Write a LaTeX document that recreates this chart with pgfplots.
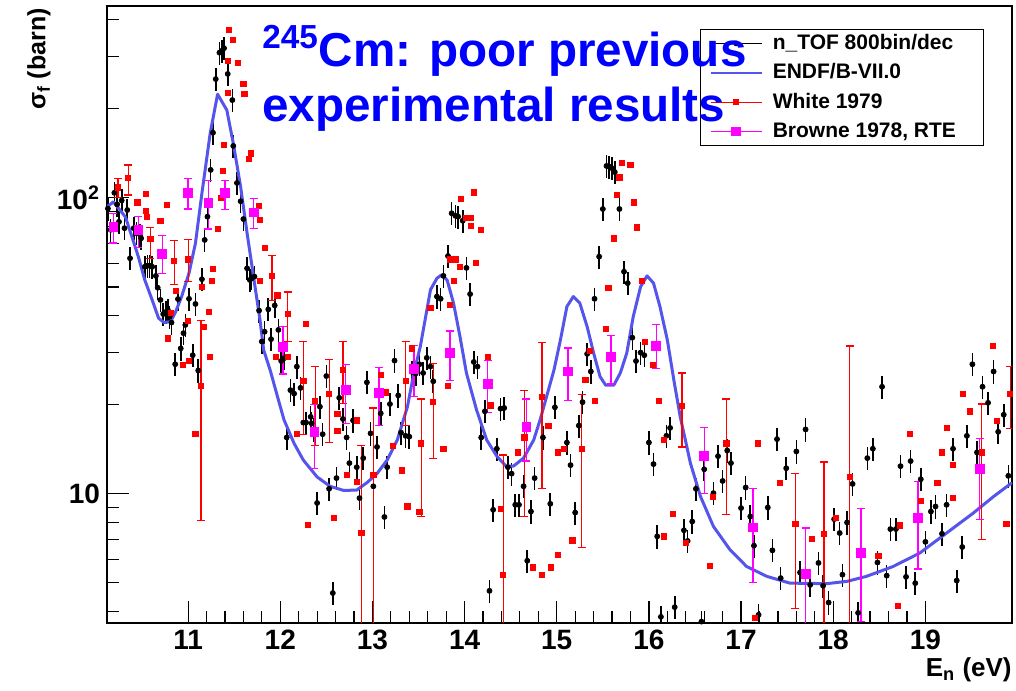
\documentclass[border=0pt]{standalone}
\usepackage{pgfplots}
\pgfplotsset{compat=1.18}
\usepackage{pgfplotstable}
\usepackage{fontspec}
\setmainfont{Liberation Sans}

\definecolor{endfblue}{RGB}{85,85,235}
\definecolor{titleblue}{RGB}{0,0,255}
\definecolor{brownemag}{RGB}{255,0,255}
\definecolor{whitered}{RGB}{255,0,0}

% n_TOF 800bin/dec
\pgfplotstableread{
x y
10.13 92
10.16 78
10.20 104
10.23 95
10.25 83
10.28 98
10.31 79
10.34 91
10.37 62.5
10.41 79
10.44 76
10.46 79
10.48 75
10.49 73
10.53 58.5
10.56 59
10.58 59
10.61 58.5
10.65 54.5
10.67 49.7
10.70 45.2
10.73 40.5
10.76 41.2
10.78 41.8
10.80 39.7
10.82 37.9
10.86 27.4
10.89 45.5
10.92 31.0
10.95 34.9
10.97 37.2
11.01 45.6
11.05 29.4
11.08 43.8
11.11 26.1
11.15 53.1
11.18 72.1
11.21 86.4
11.245 124.3
11.27 166
11.30 252
11.34 309.6
11.37 314.5
11.39 320.4
11.43 262.3
11.48 214
11.49 149.8
11.53 112.3
11.57 97.4
11.60 84.8
11.64 57.8
11.67 52.8
11.69 53.5
11.72 54.2
11.77 41.6
11.80 32.7
11.83 35.3
11.87 42.0
11.90 33.3
11.94 43.3
11.98 35.8
12.01 28.1
12.04 28.7
12.07 15.5
12.11 22.4
12.15 21.8
12.18 26.9
12.22 22.8
12.25 17.4
12.28 17.4
12.33 18.2
12.34 17.3
12.36 16.5
12.40 9.31
12.43 19.7
12.46 15.9
12.50 25.0
12.53 10.4
12.57 4.62
12.61 11.3
12.64 21.1
12.68 17.9
12.72 15.5
12.75 12.7
12.79 17.7
12.83 12.3
12.86 9.67
12.90 13.2
12.94 23.8
12.98 16.0
13.01 10.6
13.05 14.4
13.09 18.7
13.13 8.35
13.16 12.3
13.19 20.1
13.24 28.2
13.28 21.5
13.31 16.1
13.36 15.7
13.40 15.6
13.43 25.8
13.47 25.5
13.51 27.4
13.55 25.6
13.59 28.8
13.63 26.9
13.66 24.0
13.70 46.4
13.74 45.6
13.77 54.5
13.82 63.6
13.86 88.7
13.90 87.0
13.93 86.4
13.98 83.7
14.02 58.0
14.06 47.3
14.10 27.9
14.14 26.9
14.18 15.5
14.22 19.0
14.27 4.70
14.31 8.83
14.35 14.2
14.39 19.4
14.43 19.5
14.47 12.3
14.51 11.7
14.55 9.18
14.59 9.18
14.64 10.6
14.68 5.94
14.72 8.71
14.76 11.3
14.85 15.5
14.93 9.25
14.98 19.6
15.11 14.9
15.15 12.5
15.20 8.64
15.24 17.0
15.28 20.4
15.33 29.7
15.37 25.9
15.41 45.6
15.46 63.3
15.50 91.7
15.54 128.2
15.57 127.5
15.60 125.9
15.63 122.2
15.68 91.7
15.73 56.3
15.77 51.5
15.82 33.7
15.86 28.1
15.91 30.0
15.95 29.4
16.00 14.9
16.05 12.6
16.09 7.18
16.13 3.84
16.19 15.7
16.23 16.7
16.28 4.14
16.38 7.53
16.42 6.93
16.47 8.06
16.51 10.4
16.57 3.70
16.60 12.1
16.70 10.05
16.75 13.4
16.80 11.05
16.85 14.0
16.89 12.7
17.00 8.95
17.05 10.5
17.10 8.38
17.14 6.68
17.19 3.90
17.29 8.99
17.34 6.44
17.39 15.3
17.43 5.19
17.49 12.2
17.60 13.9
17.64 5.42
17.70 16.5
17.75 4.92
17.84 5.84
17.89 4.89
17.95 4.29
18.01 8.21
18.07 7.37
18.10 5.33
18.15 8.00
18.21 10.8
18.27 3.96
18.37 13.2
18.43 14.2
18.48 5.86
18.53 23.0
18.58 5.29
18.62 7.60
18.68 7.60
18.73 12.4
18.79 5.24
18.84 12.9
18.89 4.99
18.95 11.2
19.00 6.88
19.06 8.71
19.11 9.06
19.18 7.33
19.23 9.18
19.30 14.2
19.34 5.09
19.40 6.61
19.45 15.7
19.51 27.4
19.56 13.8
19.62 23.0
19.68 20.3
19.74 25.9
19.79 16.2
19.85 18.5
19.90 11.5
}\ntof

% ENDF/B-VII.0
\pgfplotstableread{
x y
10.12 93.3
10.19 96.9
10.32 86.2
10.39 74.0
10.46 63.3
10.53 52.8
10.61 45.2
10.68 39.2
10.74 37.9
10.81 38.2
10.86 40.9
10.93 46.4
11.01 55.7
11.08 70.3
11.15 103.7
11.24 165.5
11.32 224
11.42 198
11.49 153
11.57 109
11.64 76
11.71 54.2
11.78 38.7
11.82 30.6
11.89 26.2
11.97 21.3
12.04 17.8
12.15 14.8
12.25 13.0
12.40 11.4
12.54 10.6
12.69 10.26
12.83 10.3
12.94 10.9
13.05 11.7
13.16 13.0
13.27 15.2
13.38 19.7
13.45 25.6
13.52 31.5
13.63 48.9
13.70 53.5
13.75 54.9
13.81 52.8
13.88 44.1
13.95 34.0
14.02 25.6
14.13 19.2
14.24 15.2
14.35 13.4
14.45 12.4
14.53 12.4
14.64 13.2
14.75 15.2
14.82 17.8
14.97 26.2
15.04 33.1
15.11 42.9
15.18 46.4
15.25 44.1
15.33 36.7
15.40 29.9
15.47 24.9
15.53 23.3
15.62 23.3
15.69 25.6
15.76 29.9
15.83 39.7
15.91 50.1
15.98 54.5
16.05 51.5
16.12 42.9
16.20 33.1
16.27 24.3
16.34 18.2
16.41 14.5
16.45 12.7
16.56 9.79
16.70 7.76
16.88 6.47
17.06 5.68
17.28 5.26
17.53 4.99
17.93 4.97
18.15 5.06
18.36 5.26
18.65 5.68
18.94 6.31
19.23 7.37
19.52 8.61
19.74 9.79
19.94 10.9
}\endf

% White 1979, points with error bars
\pgfplotstableread{
x y ep em
10.24 108.5 8.1 8.5
10.35 116.6 12.6 14.3
10.59 72.5 6.8 10.0
10.85 61.4 10.3 10.5
11.00 62.0 10.5 9.7
11.14 23.1 15.4 15.0
11.91 54.6 9.1 9.7
12.08 40.5 7.6 7.7
12.25 24.1 8.6 8.2
12.38 20.6 6.3 6.0
12.53 21.7 6.7 6.75
12.68 26.3 6.4 6.1
12.88 7.4 7.2 4.4
13.01 11.6 7.9 8.5
13.36 24.1 8.6 7.1
13.53 14.8 6.1 6.4
13.66 20.4 7.2 7.2
14.42 5.33 8.2 2.5
14.65 15.5 6.8 7.1
14.84 21.3 11.2 10.9
15.27 14.2 7.4 7.6
16.36 19.8 5.8 5.4
16.84 14.8 6.1 6.3
17.59 7.9 3.8 3.8
17.90 7.30 5.5 4.3
18.18 11.4 20.2 8.4
19.61 13.8 6.3 6.8
19.92 21.7 5.2 5.1
}\whiteerr

% White 1979, other points
\pgfplotstableread{
x y
10.45 96.5
10.54 103.4
10.54 90.3
10.55 86.2
10.70 83.5
10.77 94.6
10.78 33.5
10.81 40.9
10.87 48.6
10.94 27.2
11.00 38.5
11.01 28.2
11.08 15.9
11.15 50.1
11.17 36.7
11.23 41.2
11.24 29.0
11.26 52.5
11.27 57.4
11.32 78.7
11.36 99.8
11.38 123.5
11.39 151
11.43 226.7
11.43 291
11.44 369.6
11.49 341.8
11.54 286.4
11.60 242.6
11.61 224.5
11.66 135
11.68 141.3
11.77 93.9
11.78 84.2
11.83 67.6
11.78 52.5
11.97 46.8
11.95 29.0
12.08 29.0
12.18 15.9
12.28 37.5
12.30 7.83
12.58 8.27
12.62 18.6
12.62 16.3
12.72 11.6
12.83 11.0
12.83 17.7
13.09 25.2
13.14 22.0
13.22 14.5
13.32 12.0
13.38 9.07
13.43 31.0
13.51 8.71
13.63 42.4
13.77 14.2
13.82 23.1
13.84 43.4
13.84 62.0
13.88 52.5
13.91 62.0
13.95 58.5
13.96 99.1
14.01 85.6
14.07 85.6
14.07 80.4
14.10 104.4
14.12 60.1
14.18 77.9
14.25 29.0
14.28 19.9
14.39 8.88
14.58 13.8
14.74 5.64
14.84 5.33
14.91 17.0
14.94 5.64
15.01 6.21
15.01 13.8
15.08 14.2
15.17 6.96
15.31 24.2
15.36 30.4
15.41 20.6
15.53 36.0
15.56 49.5
15.62 73.0
15.65 102.4
15.68 117.3
15.71 131.6
15.80 129.2
15.84 96.6
15.87 79.5
15.92 52.4
15.96 32.7
16.04 27.2
16.11 20.6
16.16 15.2
16.16 7.18
16.26 8.56
16.40 6.82
16.66 5.69
16.69 9.76
17.15 3.80
17.18 14.8
17.42 10.9
17.77 7.04
18.03 8.29
18.49 6.18
18.70 4.19
18.72 7.82
18.83 15.9
18.95 9.48
19.13 10.9
19.18 13.8
19.23 16.7
19.30 12.5
19.30 9.67
19.41 21.7
19.48 19.0
19.73 31.7
19.78 17.6
19.88 7.9
}\whitepts

% Browne 1978, RTE
\pgfplotstableread{
x y ep em
10.19 79.9 8.9 9.5
10.46 77.9 8.5 10.1
10.72 64.8 9.7 9.4
11.00 104.2 11.8 12.5
11.22 95.9 18.5 17.4
11.40 103.7 10.7 12.1
11.71 89.3 9.9 10.3
12.03 31.3 5.5 5.9
12.37 16.2 3.8 4.0
12.71 22.4 4.9 5.1
13.07 21.9 4.8 4.9
13.45 26.5 5.3 5.2
13.84 30.0 5.5 5.8
14.25 23.5 4.7 4.7
14.67 16.8 4.1 3.9
15.12 25.9 5.2 5.2
15.59 29.1 5.1 5.6
16.08 31.7 5.6 5.2
16.60 13.4 3.4 3.35
17.13 7.7 2.7 2.7
17.70 5.37 2.3 2.4
18.30 6.3 2.6 2.6
18.92 8.27 2.7 2.7
19.59 12.1 3.3 3.9
}\browne

\begin{document}
\begin{tikzpicture}
\begin{axis}[
    name=ax,
    scale only axis,
    width=452.5pt, height=308.5pt,
    ymode=log,
    xmin=10.12, xmax=19.94,
    ymin=3.66, ymax=445,
    xtick={11,...,19},
    minor x tick num=4,
    ytick={10,100},
    yticklabels={10,10\textsuperscript{2}},
    minor ytick={4,5,6,7,8,9,20,30,40,50,60,70,80,90,200,300,400},
    tick pos=left,
    tick align=inside,
    major tick length=11pt,
    minor tick length=6pt,
    axis line style={line width=0.6pt},
    every tick/.style={black, line width=0.6pt},
    ticklabel style={font=\bfseries\fontsize{14}{16}\selectfont},
    /pgf/number format/assume math mode=true,
    xlabel={E\textsubscript{n} (eV)},
    xlabel style={at={(rel axis cs:1,-0.0875)}, anchor=base east,
        font=\bfseries\fontsize{13}{15}\selectfont, inner sep=0pt},
    ylabel={σ\textsubscript{f} (barn)},
    ylabel style={at={(rel axis cs:-0.068,0.997)}, anchor=base east,
        font=\bfseries\fontsize{12.5}{15}\selectfont, inner sep=0pt},
    legend cell align=left,
    legend style={at={(rel axis cs:0.655,0.963)}, anchor=north west,
        draw=black, line width=0.6pt, fill=none,
        font=\bfseries\fontsize{10.5}{12}\selectfont,
        inner xsep=4.5pt, inner ysep=2pt,
        row sep=4.7pt, column sep=5pt,
        nodes={inner sep=0pt, text height=8pt, text depth=2pt}},
]
\addplot[only marks, mark=*, mark size=1.25pt, black, forget plot,
    error bars/.cd, y dir=both, y fixed relative=0.09,
    x dir=both, x fixed=0.02, error mark=none,
    error bar style={line width=0.8pt, black}]
    table[x=x, y=y] {\ntof};

\addplot[endfblue, line width=1.5pt, line join=round, no marks, forget plot]
    table[x=x, y=y] {\endf};

\addplot[only marks, mark=square*, mark size=1.3pt, whitered, forget plot,
    error bars/.cd, y dir=both, y explicit,
    error mark options={rotate=90, mark size=2pt, line width=0.6pt, whitered},
    error bar style={line width=0.6pt, whitered}]
    table[x=x, y=y, y error plus=ep, y error minus=em] {\whiteerr};

\addplot[only marks, mark=square*, mark size=1.3pt, whitered, forget plot]
    table[x=x, y=y] {\whitepts};

\addplot[only marks, mark=square*, mark size=2.2pt, brownemag, forget plot,
    error bars/.cd, y dir=both, y explicit,
    error mark options={rotate=90, mark size=2pt, line width=0.6pt, brownemag},
    error bar style={line width=0.7pt, brownemag}]
    table[x=x, y=y, y error plus=ep, y error minus=em] {\browne};

\addlegendimage{legend image code/.code={
    \draw[black, line width=0.6pt] (0pt,0pt) -- (25.5pt,0pt);
    \fill[black] (12.75pt,0pt) circle (1.1pt);}}
\addlegendentry{\makebox[101pt][l]{n\_TOF 800bin/dec}}
\addlegendimage{legend image code/.code={
    \draw[endfblue, line width=1.2pt] (0pt,0pt) -- (25.5pt,0pt);}}
\addlegendentry{ENDF/B-VII.0}
\addlegendimage{legend image code/.code={
    \draw[whitered, line width=0.6pt] (0pt,0pt) -- (25.5pt,0pt);
    \fill[whitered] (11.5pt,-1.2pt) rectangle (14pt,1.2pt);}}
\addlegendentry{White 1979}
\addlegendimage{legend image code/.code={
    \draw[brownemag, line width=0.6pt] (0pt,0pt) -- (25.5pt,0pt);
    \fill[brownemag] (10.6pt,-2.1pt) rectangle (14.9pt,2.1pt);}}
\addlegendentry{Browne 1978, RTE}
\end{axis}

\node[anchor=base west, inner sep=0pt, text=titleblue,
    font=\bfseries\fontsize{23.8}{28}\selectfont]
    at ([shift={(77.5pt,278.15pt)}]ax.south west) {\textsuperscript{245}Cm: poor previous};
\node[anchor=base west, inner sep=0pt, text=titleblue,
    font=\bfseries\fontsize{23.8}{28}\selectfont]
    at ([shift={(77.5pt,250.65pt)}]ax.south west) {experimental results};

\pgfresetboundingbox
\useasboundingbox ([shift={(-53.5pt,-33.5pt)}]ax.south west)
    rectangle ([shift={(454.5pt,311.5pt)}]ax.south west);
\end{tikzpicture}
\end{document}
